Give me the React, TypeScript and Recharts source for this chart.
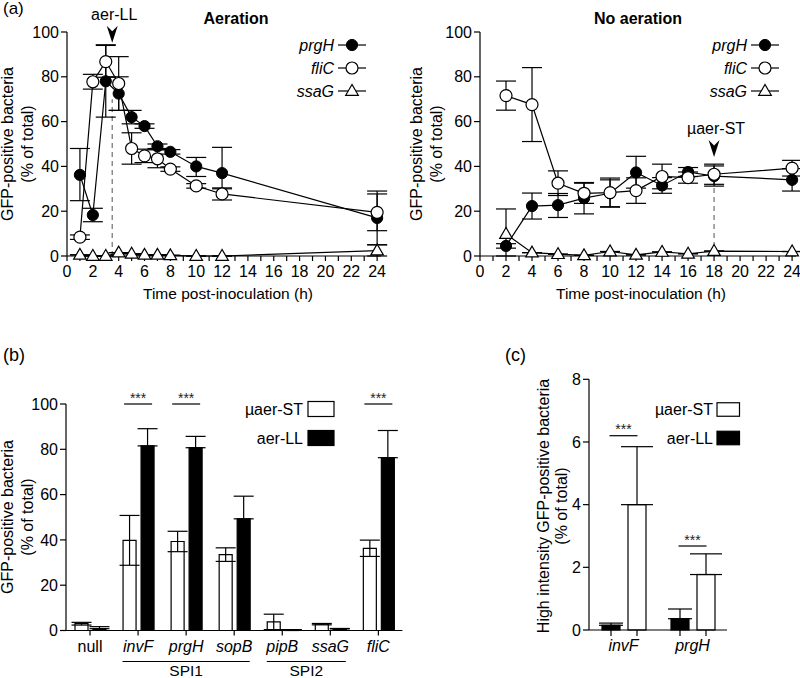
import React from 'react';
import {
  LineChart, Line, XAxis, YAxis, ErrorBar, ReferenceLine, ReferenceDot, Legend,
  BarChart, Bar,
} from 'recharts';

const FONT = '"Liberation Sans", Arial, Helvetica, sans-serif';
const FS = 16;

// ---------- Panel (a): Aeration ----------
const aerTimes = [1, 2, 3, 4, 5, 6, 7, 8, 10, 12, 24];
const aerPrgH = [36.2, 18.3, 78, 72.5, 62, 58, 49, 46.5, 40, 37, 17];
const aerPrgHErr = [[11.5, 11.8], [3, 3], [16, 16], [7.5, 7.5], [3, 3], [1, 1], [1, 1], [1, 1], [4.5, 4], [7, 11.5], [12, 12]];
const aerFliC = [8.4, 77.8, 86.8, 77, 48, 44.7, 43.4, 38.8, 31.3, 27.7, 19.5];
const aerFliCErr = [[1, 1], [3.3, 3.3], [7, 7.5], [12, 12], [7, 7], [3, 3], [4, 4], [1, 1], [1, 1], [2.7, 2.7], [8.2, 8.2]];
const aerSsaG = [0.5, 0, 0, 1.5, 1, 0.5, 0.5, 0.3, 0, 0, 2.4];
const aerSsaGErr = [[0, 0], [0, 0], [0, 0], [0, 0], [0, 0], [0, 0], [0, 0], [0, 0], [0, 0], [0, 0], [2.4, 2.6]];

// ---------- Panel (a): No aeration ----------
const noAerTimes = [2, 4, 6, 8, 10, 12, 14, 16, 18, 24];
const noAerPrgH = [4.5, 22.3, 22.7, 25.8, 28, 37.3, 31.5, 37.5, 35.7, 34];
const noAerPrgHErr = [[1, 1], [5.8, 5.8], [5.5, 5.2], [7, 7], [6, 6], [7, 7.2], [3.5, 3.5], [2, 2], [4.5, 4.5], [5, 5]];
const noAerFliC = [71.6, 67.6, 32.5, 28, 28.3, 29.2, 35.5, 35, 36.5, 39.2];
const noAerFliCErr = [[6.5, 6.5], [16.5, 16.5], [5.5, 5.5], [4.5, 4.5], [6.5, 6.5], [5.7, 5.7], [5.5, 5.5], [2.5, 2.5], [4.5, 4.5], [3.5, 3.5]];
const noAerSsaG = [9.8, 1.5, 0.8, 0.3, 2, 0.5, 1.8, 1, 2.2, 2];
const noAerSsaGErr = [[9.8, 11.2], [0, 0], [0, 0], [0, 0], [0, 0], [0, 0], [0, 0], [0, 0], [0, 0], [0, 0]];

const hourTicks = [0, 1, 2, 3, 4, 5, 6, 7, 8, 9, 10, 11, 12, 13, 14, 15, 16, 17, 18, 19, 20, 21, 22, 23, 24];
const pctTicks = [0, 20, 40, 60, 80, 100];
const seriesA = [
  { key: 'prgH', kind: 'filled' },
  { key: 'fliC', kind: 'open' },
  { key: 'ssaG', kind: 'tri' },
];

// annotations (a)
const aerMark = { t: 3.5, dashTop: 70, arrowY: 95.2, label: 'aer-LL' };
const noAerMark = { t: 18, dashTop: 31, arrowY: 44.2, label: 'µaer-ST' };

// ---------- Panel (b) ----------
const genesB = ['null', 'invF', 'prgH', 'sopB', 'pipB', 'ssaG', 'fliC'];
const muaerB = [3.0, 39.8, 39.3, 33.5, 3.8, 2.8, 36.3];
const muaerBErr = [0.6, 11, 4.5, 3, 3.4, 0.3, 3.6];
const aerB = [0.8, 81.5, 80.7, 49.3, 0.3, 0.7, 76.3];
const aerBErr = [0.9, 7.6, 5, 10, 0.1, 0.2, 12];
const sigB = ['invF', 'prgH', 'fliC'];

// ---------- Panel (c) ----------
const genesC = ['invF', 'prgH'];
const aerC = [0.15, 0.36];
const aerCErr = [0.07, 0.31];
const muaerC = [4.0, 1.77];
const muaerCErr = [1.85, 0.66];
const sigC = [6.2, 2.68];
const cTicks = [0, 2, 4, 6, 8];

const rowsA = (times: number[], p: number[], pe: any[], f: number[], fe: any[], s: number[], se: any[]) =>
  times.map((t, i) => ({ t, prgH: p[i], prgHErr: pe[i], fliC: f[i], fliCErr: fe[i], ssaG: s[i], ssaGErr: se[i] }));

const dataAer = rowsA(aerTimes, aerPrgH, aerPrgHErr, aerFliC, aerFliCErr, aerSsaG, aerSsaGErr);
const dataNoAer = rowsA(noAerTimes, noAerPrgH, noAerPrgHErr, noAerFliC, noAerFliCErr, noAerSsaG, noAerSsaGErr);
// white bars in (b) show both whiskers; filled bars only the upper one
const dataB = genesB.map((g, i) => ({
  gene: g, muaer: muaerB[i], muaerErr: muaerBErr[i], aer: aerB[i], aerErr: [0, aerBErr[i]],
}));
const dataC = genesC.map((g, i) => ({
  gene: g, aer: aerC[i], aerErr: [0, aerCErr[i]], muaer: muaerC[i], muaerErr: [0, muaerCErr[i]],
}));

const AX = { stroke: '#000', strokeWidth: 1.2 };
const yTick = { fill: '#000', fontSize: FS, fontFamily: FONT };

function Marker({ kind, cx, cy }: any) {
  if (kind === 'filled') return <circle cx={cx} cy={cy} r={5.6} fill="#000" stroke="#000" strokeWidth={1} />;
  if (kind === 'open') return <circle cx={cx} cy={cy} r={6} fill="#fff" stroke="#000" strokeWidth={1.2} />;
  return (
    <polygon
      points={`${cx},${cy - 6.5} ${cx - 6.3},${cy + 4.3} ${cx + 6.3},${cy + 4.3}`}
      fill="#fff" stroke="#000" strokeWidth={1.2} strokeLinejoin="miter"
    />
  );
}

const hourTick = (p: any) => {
  const v = p.payload.value;
  if (v % 2 !== 0) return <g key={`ht-${v}`} />;
  return (
    <text key={`ht-${v}`} x={p.x} y={p.y + 14} textAnchor="middle" fontSize={FS} fontFamily={FONT} fill="#000">{v}</text>
  );
};

function ArrowMark({ cx, cy, text }: any) {
  return (
    <g>
      <path d={`M${cx},${cy} L${cx - 5.5},${cy - 17} L${cx},${cy - 11.5} L${cx + 5.5},${cy - 17} Z`} fill="#000" />
      <text x={cx + 2} y={cy - 23} textAnchor="middle" fontSize={FS} fontFamily={FONT} fill="#000">{text}</text>
    </g>
  );
}

function LegendA({ left, top, textEnd, markerX }: any) {
  const rows = [45, 68, 91];
  return (
    <svg width={110} height={70} viewBox={`${left} ${top} 110 70`} style={{ display: 'block', overflow: 'visible' }}>
      {seriesA.map((s, i) => (
        <g key={s.key}>
          <text x={textEnd} y={rows[i] + 5.6} textAnchor="end" fontSize={FS} fontStyle="italic" fontFamily={FONT} fill="#000">{s.key}</text>
          <line x1={markerX - 14} x2={markerX + 14} y1={rows[i]} y2={rows[i]} stroke="#000" strokeWidth={1.2} />
          <Marker kind={s.kind} cx={markerX} cy={rows[i]} />
        </g>
      ))}
    </svg>
  );
}

function TimePanel({ data, left, yAxisWidth, marginRight, legend, mark }: any) {
  return (
    <div style={{ position: 'absolute', left, top: 0 }}>
      <LineChart width={400} height={310} data={data} margin={{ top: 32, right: marginRight, bottom: 20, left: 0 }}>
        <XAxis
          type="number" dataKey="t" domain={[0, 24.3]} ticks={hourTicks} interval={0}
          tickSize={5} tickMargin={2} height={34} tick={hourTick} axisLine={AX} tickLine={AX}
        />
        <YAxis
          type="number" domain={[0, 100]} ticks={pctTicks} interval={0} width={yAxisWidth}
          tickSize={6} tickMargin={2} tick={yTick} axisLine={AX} tickLine={AX}
        />
        <ReferenceLine
          segment={[{ x: mark.t, y: 0 }, { x: mark.t, y: mark.dashTop }]}
          stroke="#7a7a7a" strokeWidth={1.3} strokeDasharray="5 4"
        />
        {seriesA.map((s) => (
          <Line
            key={s.key} type="linear" dataKey={s.key} stroke="#000" strokeWidth={1.2}
            isAnimationActive={false} activeDot={false}
            dot={(p: any) => <Marker key={`${s.key}-${p.index}`} kind={s.kind} cx={p.cx} cy={p.cy} />}
          >
            <ErrorBar dataKey={`${s.key}Err`} width={10} stroke="#000" strokeWidth={1.2} direction="y" />
          </Line>
        ))}
        <ReferenceDot
          x={mark.t} y={mark.arrowY} ifOverflow="visible"
          shape={(p: any) => <ArrowMark cx={p.cx} cy={p.cy} text={mark.label} />}
        />
        <Legend
          layout="vertical" align="center" verticalAlign="middle"
          wrapperStyle={{ position: 'absolute', left: legend.left, top: 33, width: 110, height: 70, margin: 0, padding: 0 }}
          content={() => <LegendA left={legend.left} top={33} textEnd={legend.textEnd} markerX={legend.markerX} />}
        />
      </LineChart>
    </div>
  );
}

const sigShape = (stars: string) => (p: any) => (
  <g>
    <line x1={p.cx - 14} x2={p.cx + 14} y1={p.cy} y2={p.cy} stroke="#000" strokeWidth={1.2} />
    <text x={p.cx} y={p.cy - 1.5} textAnchor="middle" fontSize={14} fontFamily={FONT} fill="#222">{stars}</text>
  </g>
);

const tickB = (p: any) => {
  const v = p.payload.value;
  const x = p.x;
  const y = p.y;
  return (
    <g key={`tb-${v}`}>
      <text x={x} y={y + 14.5} textAnchor="middle" fontSize={FS} fontFamily={FONT} fontStyle={v === 'null' ? 'normal' : 'italic'} fill="#000">{v}</text>
      {v === 'prgH' && (
        <g>
          <line x1={x - 63.6} x2={x + 63.6} y1={y + 24} y2={y + 24} stroke="#000" strokeWidth={1.2} />
          <text x={x} y={y + 38} textAnchor="middle" fontSize={15.5} fontFamily={FONT} fill="#000">SPI1</text>
        </g>
      )}
      {v === 'ssaG' && (
        <g>
          <line x1={x - 63.5} x2={x + 15.5} y1={y + 24} y2={y + 24} stroke="#000" strokeWidth={1.2} />
          <text x={x - 24} y={y + 38} textAnchor="middle" fontSize={15.5} fontFamily={FONT} fill="#000">SPI2</text>
        </g>
      )}
    </g>
  );
};

const tickC = (p: any) => (
  <text key={`tc-${p.payload.value}`} x={p.x} y={p.y + 14} textAnchor="middle" fontSize={FS} fontFamily={FONT} fontStyle="italic" fill="#000">
    {p.payload.value}
  </text>
);

const barWithTick = (p: any) => (
  <g>
    <rect x={p.x} y={p.y} width={p.width} height={p.height} fill={p.fill} stroke="#000" strokeWidth={1.2} />
    <line x1={p.x + p.width / 2} x2={p.x + p.width / 2} y1={p.y + p.height} y2={p.y + p.height + 6} stroke="#000" strokeWidth={1.2} />
  </g>
);

function LegendBar({ left, top, w, h, textEnd, box, rows }: any) {
  return (
    <svg width={w} height={h} viewBox={`${left} ${top} ${w} ${h}`} style={{ display: 'block', overflow: 'visible' }}>
      <text x={textEnd} y={rows[0] + 5.6} textAnchor="end" fontSize={FS} fontFamily={FONT} fill="#000">µaer-ST</text>
      <rect x={box.x} y={rows[0] - box.h / 2} width={box.w} height={box.h} fill="#fff" stroke="#000" strokeWidth={1.2} />
      <text x={textEnd} y={rows[1] + 5.6} textAnchor="end" fontSize={FS} fontFamily={FONT} fill="#000">aer-LL</text>
      <rect x={box.x} y={rows[1] - box.h / 2} width={box.w} height={box.h} fill="#000" stroke="#000" strokeWidth={1.2} />
    </svg>
  );
}

function YTitle({ x1, x2, cy, lines }: any) {
  return (
    <g>
      <text transform={`translate(${x1},${cy}) rotate(-90)`} textAnchor="middle" fontSize={FS} fontFamily={FONT} fill="#000">{lines[0]}</text>
      <text transform={`translate(${x2},${cy}) rotate(-90)`} textAnchor="middle" fontSize={FS} fontFamily={FONT} fill="#000">{lines[1]}</text>
    </g>
  );
}

export default function App() {
  const gfp = ['GFP-positive bacteria', '(% of total)'];
  return (
    <div style={{ position: 'absolute', left: 0, top: 0, width: 800, height: 678, background: '#fff', overflow: 'hidden', fontFamily: FONT }}>
      <TimePanel
        data={dataAer} left={0} yAxisWidth={67} marginRight={19}
        legend={{ left: 270, textEnd: 334, markerX: 352 }} mark={aerMark}
      />
      <TimePanel
        data={dataNoAer} left={400} yAxisWidth={80} marginRight={4}
        legend={{ left: 280, textEnd: 347, markerX: 365 }} mark={noAerMark}
      />

      <div style={{ position: 'absolute', left: 0, top: 330 }}>
        <BarChart width={540} height={348} data={dataB} margin={{ top: 74, right: 137.6, bottom: 7.5, left: 0 }} barSize={13} barGap={5}>
          <XAxis dataKey="gene" type="category" height={40} interval={0} tickSize={5} tickMargin={2} tick={tickB} axisLine={AX} tickLine={AX} />
          <YAxis type="number" domain={[0, 100]} ticks={pctTicks} interval={0} width={66} tickSize={6} tickMargin={2} tick={yTick} axisLine={AX} tickLine={AX} />
          <Bar dataKey="muaer" fill="#fff" stroke="#000" strokeWidth={1.2} isAnimationActive={false}>
            <ErrorBar dataKey="muaerErr" width={10} stroke="#000" strokeWidth={1.2} direction="y" />
          </Bar>
          <Bar dataKey="aer" fill="#000" stroke="#000" strokeWidth={1.2} isAnimationActive={false}>
            <ErrorBar dataKey="aerErr" width={10} stroke="#000" strokeWidth={1.2} direction="y" />
          </Bar>
          {sigB.map((g) => (
            <ReferenceDot key={g} x={g} y={100} ifOverflow="visible" shape={sigShape('***')} />
          ))}
          <Legend
            layout="vertical" align="center" verticalAlign="middle"
            wrapperStyle={{ position: 'absolute', left: 230, top: 62, width: 110, height: 60, margin: 0, padding: 0 }}
            content={() => (
              <LegendBar left={230} top={62} w={110} h={60} textEnd={303} box={{ x: 308, w: 26, h: 15 }} rows={[79, 108]} />
            )}
          />
        </BarChart>
      </div>

      <div style={{ position: 'absolute', left: 540, top: 330 }}>
        <BarChart width={260} height={348} data={dataC} margin={{ top: 49.3, right: 73, bottom: 8, left: 0 }} barSize={18} barGap={8}>
          <XAxis dataKey="gene" type="category" height={40} interval={0} tickSize={5} tickMargin={2} tick={tickC} axisLine={AX} tickLine={false} />
          <YAxis type="number" domain={[0, 8]} ticks={cTicks} interval={0} width={49} tickSize={6} tickMargin={2} tick={yTick} axisLine={AX} tickLine={AX} />
          <Bar dataKey="aer" fill="#000" isAnimationActive={false} shape={barWithTick}>
            <ErrorBar dataKey="aerErr" width={12} stroke="#000" strokeWidth={1.2} direction="y" />
          </Bar>
          <Bar dataKey="muaer" fill="#fff" isAnimationActive={false} shape={barWithTick}>
            <ErrorBar dataKey="muaerErr" width={16} stroke="#000" strokeWidth={1.2} direction="y" />
          </Bar>
          {genesC.map((g, i) => (
            <ReferenceDot key={g} x={g} y={sigC[i]} ifOverflow="visible" shape={sigShape('***')} />
          ))}
          <Legend
            layout="vertical" align="center" verticalAlign="middle"
            wrapperStyle={{ position: 'absolute', left: 100, top: 62, width: 90, height: 60, margin: 0, padding: 0 }}
            content={() => (
              <LegendBar left={100} top={62} w={90} h={60} textEnd={173} box={{ x: 177, w: 22.5, h: 13.5 }} rows={[79.5, 108]} />
            )}
          />
        </BarChart>
      </div>

      <svg width={800} height={678} style={{ position: 'absolute', left: 0, top: 0, pointerEvents: 'none' }}>
        <text x={3} y={14} fontSize={17} fontFamily={FONT} fill="#000">(a)</text>
        <text x={236} y={23.5} fontSize={FS} fontWeight="bold" textAnchor="middle" fontFamily={FONT} fill="#000">Aeration</text>
        <text x={638} y={23.5} fontSize={FS} fontWeight="bold" textAnchor="middle" fontFamily={FONT} fill="#000">No aeration</text>
        <text x={228} y={299} fontSize={15.5} textAnchor="middle" fontFamily={FONT} fill="#000">Time post-inoculation (h)</text>
        <text x={641} y={299} fontSize={15.5} textAnchor="middle" fontFamily={FONT} fill="#000">Time post-inoculation (h)</text>
        <YTitle x1={12.5} x2={33} cy={144} lines={gfp} />
        <YTitle x1={421.5} x2={441.5} cy={144} lines={gfp} />
        <text x={3} y={361} fontSize={18} fontFamily={FONT} fill="#000">(b)</text>
        <YTitle x1={13} x2={33} cy={517} lines={gfp} />
        <text x={505} y={361} fontSize={18} fontFamily={FONT} fill="#000">(c)</text>
        <YTitle x1={548.5} x2={566.5} cy={506} lines={['High intensity GFP-positive bacteria', '(% of total)']} />
      </svg>
    </div>
  );
}
